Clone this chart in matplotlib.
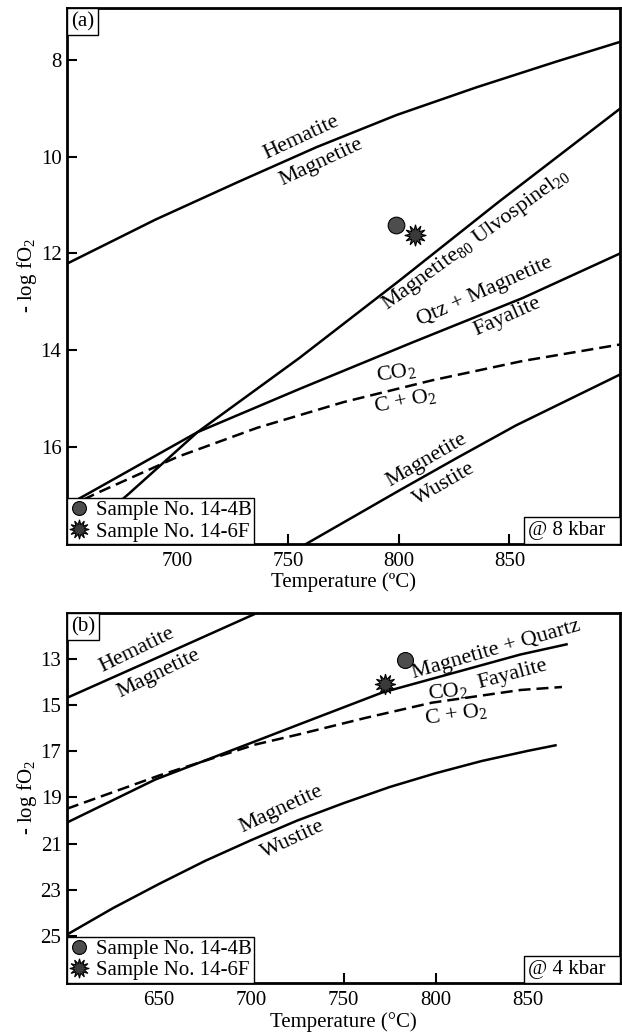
import matplotlib
matplotlib.use('Agg')
import matplotlib.pyplot as plt
from matplotlib.lines import Line2D
from matplotlib.offsetbox import AnchoredText

plt.rcParams['font.family'] = ['Liberation Serif', 'DejaVu Serif']
plt.rcParams['mathtext.fontset'] = 'custom'
plt.rcParams['mathtext.rm'] = 'Liberation Serif'
plt.rcParams['mathtext.it'] = 'Liberation Serif:italic'
plt.rcParams['mathtext.default'] = 'regular'

# ---------------- Panel (a) @ 8 kbar ----------------
a_hm_T = [650, 690, 727.5, 763, 799, 835, 871, 900]
a_hm = [12.21, 11.3, 10.52, 9.8, 9.14, 8.57, 8.04, 7.63]
a_mu_T = [650, 678, 709, 755, 800, 845, 900]
a_mu = [18.06, 16.96, 15.69, 14.16, 12.57, 10.94, 9.01]
a_qfm_T = [650, 659.5, 709, 755, 806, 856, 900]
a_qfm = [17.2, 16.96, 15.69, 14.80, 13.84, 12.92, 12.0]
a_cco_T = [650, 663, 700, 736, 775, 815, 856, 900]
a_cco = [17.25, 16.96, 16.2, 15.6, 15.07, 14.62, 14.22, 13.88]
a_mw_T = [755, 800, 826, 853, 900]
a_mw = [18.08, 16.9, 16.23, 15.55, 14.5]
a_samp_T = [798.6, 807.4]
a_samp_y = [11.42, 11.62]
a_xticks = [700, 750, 800, 850]
a_yticks = [8, 10, 12, 14, 16]

# ---------------- Panel (b) @ 4 kbar ----------------
b_hm_T = [600, 650, 710]
b_hm = [14.68, 12.9, 10.75]
b_qfm_T = [600, 648, 702, 726, 771, 846, 871]
b_qfm = [20.09, 18.22, 16.57, 15.83, 14.45, 12.8, 12.36]
b_cco_T = [600, 650, 702, 726, 762, 798, 846, 868.5]
b_cco = [19.49, 18.05, 16.71, 16.26, 15.55, 14.89, 14.34, 14.21]
b_mw_T = [600, 625, 650, 675, 700, 725, 750, 775, 800, 825, 850, 865]
b_mw = [24.95, 23.8, 22.75, 21.75, 20.85, 20.0, 19.25, 18.55, 17.95, 17.42, 16.98, 16.74]
b_samp_T = [783.4, 772.6]
b_samp_y = [13.06, 14.06]
b_xticks = [650, 700, 750, 800, 850]
b_yticks = [13, 15, 17, 19, 21, 23, 25]

sample_names = ['Sample No. 14-4B', 'Sample No. 14-6F']

a_labels = [
    ("Hematite", 756, 9.60, 25),
    ("Magnetite", 765, 10.11, 25),
    ("Magnetite$_{80}$ Ulvospinel$_{20}$", 835, 11.73, 36),
    ("Qtz + Magnetite", 839, 12.79, 24),
    ("Fayalite", 849, 13.31, 24),
    ("CO$_2$", 799, 14.45, 9),
    ("C + O$_2$", 803, 15.03, 11),
    ("Magnetite", 812.6, 16.27, 30),
    ("Wustite", 820.7, 16.76, 30),
]
b_labels = [
    ("Hematite", 638, 12.61, 26),
    ("Magnetite", 649.7, 13.62, 26),
    ("Magnetite + Quartz", 833, 12.61, 16),
    ("Fayalite", 841.7, 13.68, 15),
    ("CO$_2$", 806.3, 14.39, 6),
    ("C + O$_2$", 810.8, 15.40, 8),
    ("Magnetite", 716.2, 19.52, 25),
    ("Wustite", 722.7, 20.82, 25),
]

FS = 15
LW = 1.8
DASH = (0, (4.8, 2.4))
CIRC_FC = '#4d4d4d'
STAR_FC = '#3a3a3a'
STAR = (12, 1, 0)

W, H = 622, 1032
fig = plt.figure(figsize=(W / 100, H / 100), dpi=100)
axa = fig.add_axes([67 / W, 1 - 544 / H, (620 - 67) / W, 536 / H])
axb = fig.add_axes([67 / W, 1 - 983 / H, (620 - 67) / W, 370 / H])


def style(ax, xlim, ylim, xt, yt, xlabel, panel, kbar):
    ax.set_xlim(*xlim)
    ax.set_ylim(*ylim)
    ax.set_xticks(xt)
    ax.set_yticks(yt)
    ax.tick_params(direction='in', length=7, width=1.5, labelsize=FS, pad=6)
    ax.tick_params(axis='y', pad=4)
    for s in ax.spines.values():
        s.set_linewidth(2.0)
    ax.set_xlabel(xlabel, fontsize=FS, labelpad=1)
    ax.set_ylabel('- log fO$_2$', fontsize=FS, labelpad=1)
    at = AnchoredText(panel, loc='upper left', pad=0.18, borderpad=0,
                      prop=dict(size=FS), frameon=True)
    at.patch.set_linewidth(1.0)
    at.patch.set_edgecolor('black')
    ax.add_artist(at)
    kb = AnchoredText(kbar + '  ', loc='lower right', pad=0.2, borderpad=0,
                      prop=dict(size=FS), frameon=True)
    kb.patch.set_linewidth(1.0)
    kb.patch.set_edgecolor('black')
    ax.add_artist(kb)
    handles = [
        Line2D([], [], ls='none', marker='o', ms=10, mfc=CIRC_FC, mec='black', mew=0.8),
        Line2D([], [], ls='none', marker=STAR, ms=14, mfc=STAR_FC, mec='black', mew=0.8),
    ]
    leg = ax.legend(handles, sample_names, loc='lower left', fontsize=FS,
                    handlelength=0.9, handletextpad=0.35, borderpad=0.12,
                    labelspacing=0.1, borderaxespad=0, fancybox=False,
                    framealpha=1, edgecolor='black')
    leg.get_frame().set_linewidth(1.0)


# Panel a curves
axa.plot(a_hm_T, a_hm, color='black', lw=LW)
axa.plot(a_mu_T, a_mu, color='black', lw=LW)
axa.plot(a_qfm_T, a_qfm, color='black', lw=LW)
axa.plot(a_cco_T, a_cco, color='black', lw=LW, ls=DASH)
axa.plot(a_mw_T, a_mw, color='black', lw=LW)
axa.plot(a_samp_T[0], a_samp_y[0], ls='none', marker='o', ms=12, mfc=CIRC_FC, mec='black', mew=0.8, zorder=4)
axa.plot(a_samp_T[1], a_samp_y[1], ls='none', marker=STAR, ms=15.5, mfc=STAR_FC, mec='black', mew=0.8, zorder=4)
for txt, x, y, r in a_labels:
    axa.text(x, y, txt, fontsize=FS + 1, rotation=r, rotation_mode='anchor',
             ha='center', va='center')
style(axa, (650, 900), (18.0, 6.93), a_xticks, a_yticks,
      'Temperature (ºC)', '(a)', '@ 8 kbar')

# Panel b curves
axb.plot(b_hm_T, b_hm, color='black', lw=LW)
axb.plot(b_qfm_T, b_qfm, color='black', lw=LW)
axb.plot(b_cco_T, b_cco, color='black', lw=LW, ls=DASH)
axb.plot(b_mw_T, b_mw, color='black', lw=LW)
axb.plot(b_samp_T[0], b_samp_y[0], ls='none', marker='o', ms=11.5, mfc=CIRC_FC, mec='black', mew=0.8, zorder=4)
axb.plot(b_samp_T[1], b_samp_y[1], ls='none', marker=STAR, ms=15, mfc=STAR_FC, mec='black', mew=0.8, zorder=4)
for txt, x, y, r in b_labels:
    axb.text(x, y, txt, fontsize=FS + 1, rotation=r, rotation_mode='anchor',
             ha='center', va='center')
style(axb, (600, 900), (27.05, 11.0), b_xticks, b_yticks,
      'Temperature (°C)', '(b)', '@ 4 kbar')

fig.savefig('out.png', dpi=100, facecolor='white')
